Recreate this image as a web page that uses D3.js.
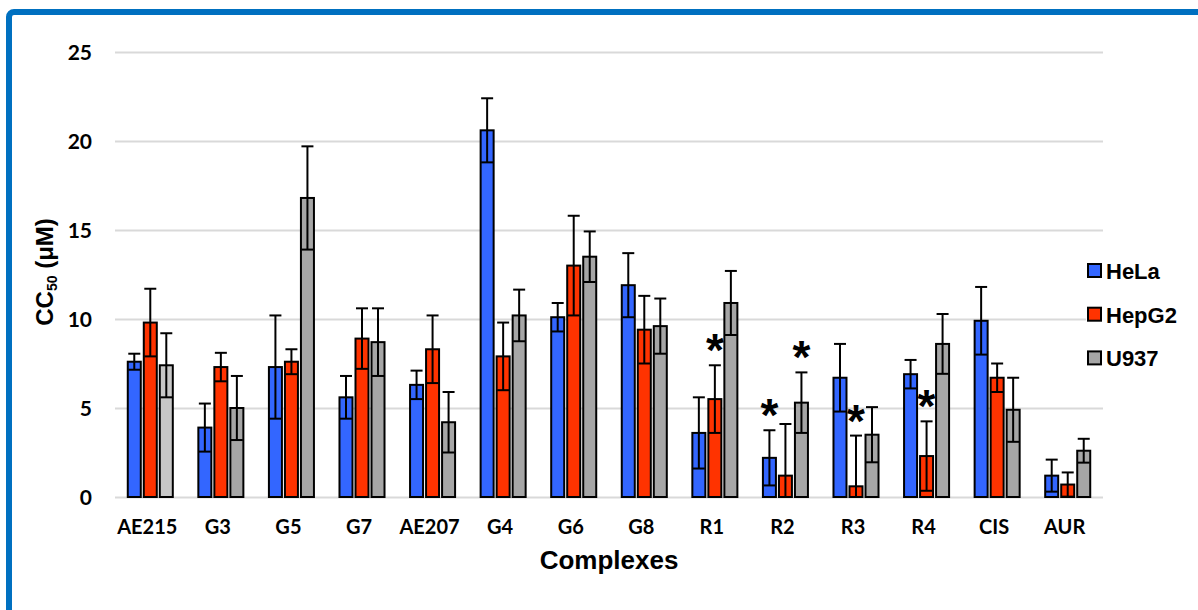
<!DOCTYPE html>
<html>
<head>
<meta charset="utf-8">
<script src="https://cdn.jsdelivr.net/npm/d3@7"></script>
<style>
  html, body { margin: 0; padding: 0; background: #fff; }
  #chart { width: 1198px; height: 610px; }
</style>
</head>
<body>
<div id="chart"></div>
<script>
const categories = ['AE215', 'G3', 'G5', 'G7', 'AE207', 'G4', 'G6', 'G8', 'R1', 'R2', 'R3', 'R4', 'CIS', 'AUR'];
const seriesNames = ['HeLa', 'HepG2', 'U937'];

const hela      = [7.6, 3.9, 7.3, 5.6, 6.3, 20.6, 10.1, 11.9, 3.6, 2.2, 6.7, 6.9, 9.9, 1.2];
const helaErr   = [0.45, 1.35, 2.9, 1.2, 0.8, 1.8, 0.8, 1.8, 2.0, 1.55, 1.9, 0.8, 1.9, 0.9];
const hepg2     = [9.8, 7.3, 7.6, 8.9, 8.3, 7.9, 13.0, 9.4, 5.5, 1.2, 0.6, 2.3, 6.7, 0.7];
const hepg2Err  = [1.9, 0.8, 0.7, 1.7, 1.9, 1.9, 2.8, 1.9, 1.9, 2.9, 2.85, 1.95, 0.8, 0.68];
const u937      = [7.4, 5.0, 16.8, 8.7, 4.2, 10.2, 13.5, 9.6, 10.9, 5.3, 3.5, 8.6, 4.9, 2.6];
const u937Err   = [1.8, 1.8, 2.9, 1.9, 1.7, 1.45, 1.42, 1.55, 1.8, 1.7, 1.55, 1.68, 1.8, 0.67];

const yTicks = [0, 5, 10, 15, 20, 25];

// significance marks: [category, series]
const marks = [['R1', 'HepG2'], ['R2', 'HeLa'], ['R2', 'U937'], ['R3', 'HepG2'], ['R4', 'HepG2']];

const values = { HeLa: hela, HepG2: hepg2, U937: u937 };
const errors = { HeLa: helaErr, HepG2: hepg2Err, U937: u937Err };
const colors = { HeLa: '#3366ff', HepG2: '#ff3300', U937: '#a6a6a6' };

const W = 1198, H = 610;
const plot = { left: 115, right: 1103, top: 52, bottom: 497 };

const svg = d3.select('#chart').append('svg')
  .attr('width', W)
  .attr('height', H);

// blue frame, only top and left edges fall inside the picture
svg.append('rect')
  .attr('x', 9).attr('y', 12)
  .attr('width', W + 40).attr('height', H + 40)
  .attr('rx', 5)
  .attr('fill', '#fff')
  .attr('stroke', '#0070c0')
  .attr('stroke-width', 6);

const x0 = d3.scaleBand()
  .domain(categories)
  .range([plot.left, plot.right])
  .paddingInner(0.362)
  .paddingOuter(0.181);

const x1 = d3.scaleBand()
  .domain(seriesNames)
  .range([0, x0.bandwidth()])
  .paddingInner(0.1875);

const y = d3.scaleLinear()
  .domain([0, 25])
  .range([plot.bottom, plot.top]);

// gridlines + y labels
svg.append('g')
  .attr('transform', `translate(${plot.left},0)`)
  .call(d3.axisLeft(y).tickValues(yTicks).tickSize(-(plot.right - plot.left)).tickPadding(23))
  .call(g => g.select('.domain').remove())
  .call(g => g.selectAll('.tick line').attr('stroke', '#d9d9d9').attr('stroke-width', 2))
  .call(g => g.selectAll('.tick text')
    .attr('fill', '#000')
    .attr('dy', '0.36em')
    .style('font', 'bold 21px Lato'));

// x labels
svg.append('g')
  .attr('transform', `translate(-3,${plot.bottom})`)
  .call(d3.axisBottom(x0).tickSize(0).tickPadding(23))
  .call(g => g.select('.domain').remove())
  .call(g => g.selectAll('.tick text')
    .attr('fill', '#000')
    .style('font', 'bold 20px Lato'));

const rows = [];
categories.forEach((c, i) => {
  seriesNames.forEach(s => {
    rows.push({ cat: c, i, series: s, value: values[s][i], err: errors[s][i] });
  });
});

const bx = d => x0(d.cat) + x1(d.series);

svg.append('g').selectAll('rect')
  .data(rows)
  .join('rect')
  .attr('x', bx)
  .attr('y', d => y(d.value))
  .attr('width', x1.bandwidth())
  .attr('height', d => y(0) - y(d.value))
  .attr('fill', d => (d.series === 'U937' && d.i === 0) ? '#c8c8c8' : colors[d.series])
  .attr('stroke', '#000')
  .attr('stroke-width', 2);

// error bars (lower whisker clipped at zero)
const eb = svg.append('g').attr('stroke', '#000').attr('stroke-width', 2);
const cap = 6;
rows.forEach(d => {
  const cx = bx(d) + x1.bandwidth() / 2;
  const lo = Math.max(0, d.value - d.err);
  const hi = d.value + d.err;
  eb.append('line').attr('x1', cx).attr('x2', cx).attr('y1', y(lo)).attr('y2', y(hi));
  eb.append('line').attr('x1', cx - cap).attr('x2', cx + cap).attr('y1', y(hi)).attr('y2', y(hi));
  if (d.value - d.err > 0) {
    eb.append('line').attr('x1', cx - cap).attr('x2', cx + cap).attr('y1', y(lo)).attr('y2', y(lo));
  }
});

// asterisks above the error bar
svg.append('g').selectAll('text')
  .data(marks.map(([c, s]) => rows.find(r => r.cat === c && r.series === s)))
  .join('text')
  .attr('x', d => bx(d) + x1.bandwidth() / 2)
  .attr('y', d => y(d.value + d.err) + 1)
  .attr('text-anchor', 'middle')
  .style('font', 'bold 46px "Liberation Sans", Arial')
  .text('*');

// axis titles
svg.append('text')
  .attr('x', (plot.left + plot.right) / 2)
  .attr('y', 569)
  .attr('text-anchor', 'middle')
  .style('font', 'bold 26px "Liberation Sans", Arial')
  .text('Complexes');

const yt = svg.append('text')
  .attr('transform', 'translate(53,272) rotate(-90)')
  .attr('text-anchor', 'middle')
  .style('font', 'bold 24px "Liberation Sans", Arial');
yt.append('tspan').text('CC');
yt.append('tspan').attr('dy', 4).style('font-size', '14px').text('50');
yt.append('tspan').attr('dy', -4).text(' (μM)');

// legend
const lg = svg.append('g').attr('transform', 'translate(1086,0)');
lg.append('rect').attr('x', 0).attr('y', 250).attr('width', 112).attr('height', 125).attr('fill', '#fff');
const item = lg.selectAll('g.item')
  .data(seriesNames)
  .join('g')
  .attr('class', 'item')
  .attr('transform', (d, i) => `translate(0,${264 + i * 43.7})`);
item.append('rect')
  .attr('x', 2).attr('y', 0)
  .attr('width', 13).attr('height', 13)
  .attr('fill', d => colors[d])
  .attr('stroke', '#000')
  .attr('stroke-width', 2);
item.append('text')
  .attr('x', 20).attr('y', 15)
  .style('font', 'bold 22px "Liberation Sans", Arial')
  .text(d => d);
</script>
</body>
</html>
